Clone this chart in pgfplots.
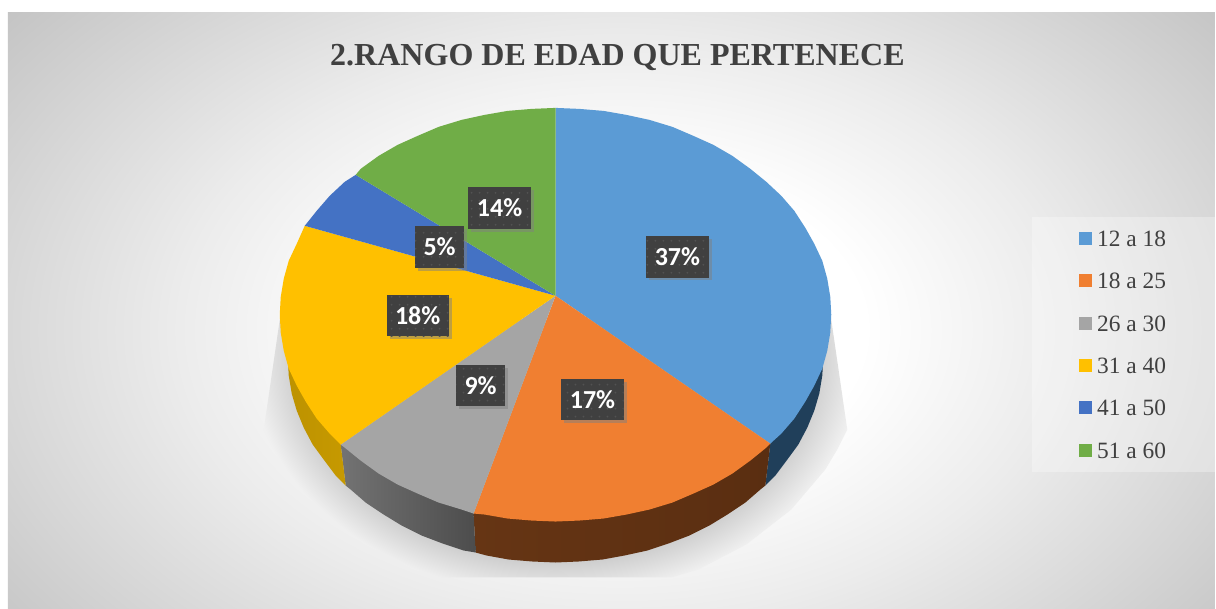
\documentclass[border=0pt]{standalone}
\usepackage{fontspec}
\setmainfont{Liberation Serif}
\newfontfamily\labelfont{Carlito}
\usepackage{pgfplots}
\pgfplotsset{compat=1.18}
\usetikzlibrary{shadows,patterns.meta}
\definecolor{cBlue}{HTML}{5B9BD5}
\definecolor{cOrange}{HTML}{F07F31}
\definecolor{cGray}{HTML}{A5A5A5}
\definecolor{cYellow}{HTML}{FFC000}
\definecolor{cBlueB}{HTML}{4472C4}
\definecolor{cGreen}{HTML}{70AD47}
\definecolor{txt}{HTML}{404040}
\definecolor{bgMid}{HTML}{ECECEC}
\definecolor{bgEdge}{HTML}{C4C4C4}
\definecolor{shadowIn}{HTML}{CBCBCB}
\definecolor{shadowOut}{HTML}{F0F0F0}
\pgfdeclareradialshading{chartbg}{\pgfpointorigin}{color(0bp)=(white); color(10bp)=(white); color(18bp)=(bgMid); color(32bp)=(bgEdge); color(50bp)=(bgEdge)}
\pgfdeclareradialshading{pieshadow}{\pgfpointorigin}{color(0bp)=(shadowIn); color(21bp)=(shadowIn); color(25bp)=(shadowOut); color(50bp)=(shadowOut)}
\begin{document}
\begin{tikzpicture}[x=1pt,y=1pt]
% page, background and soft shadow under the pie
\fill[white] (0,0) rectangle (1216,609);
\begin{scope}
\clip (8,0) rectangle (1216,596);
\shade[shading=chartbg] (8,-121) rectangle (1232,679);
\end{scope}
\begin{scope}
\clip (280,289) -- (264,179) -- (274,159) -- (286,139) -- (320,99) -- (365,64) -- (413,39) -- (440,31) -- (672,31) -- (699,39) -- (747,64) -- (792,99) -- (826,139) -- (838,159) -- (848,179) -- (832,289) -- cycle;
\shade[shading=pieshadow] (251,11) rectangle (861,491);
\end{scope}
\begin{axis}[
    at={(0,0)}, anchor=south west,
    scale only axis, width=1216pt, height=609pt,
    xmin=0, xmax=1216, ymin=0, ymax=609,
    y dir=reverse,
    hide axis,
    no marks,
    title={\textbf{2.RANGO DE EDAD QUE PERTENECE}},
    title style={at={(618/1216,1-54/609)}, anchor=center, yshift=-10pt, font=\fontsize{32.05}{32}\selectfont, text=txt},
    legend style={
        at={(1033/1216,1-217/609)}, anchor=north west,
        draw=none, fill=white, fill opacity=0.3, text opacity=1,
        inner xsep=46.5pt, inner ysep=13.5pt, row sep=26.4pt,
        font=\fontsize{23.4}{24}\selectfont, text=txt,
        cells={anchor=west},
        nodes={inner xsep=3.5pt, inner ysep=0pt, text height=16pt, text depth=0pt}
    },
    legend image code/.code={\fill[#1, fill opacity=1] (0pt,-6.5pt) rectangle (13pt,6.5pt); \path (15pt,0pt);},
]
% sides of the pie
\addplot[draw=none, forget plot, fill={rgb,255:red,32;green,63;blue,90}] coordinates {(771,444) (766,486) (776,476) (788,460) (799,445) (808,428) (815,411) (820,394) (823,376) (824,358) (760,340)};
\addplot[draw=none, forget plot, left color={rgb,255:red,102;green,53;blue,20}, right color={rgb,255:red,90;green,46;blue,17}] coordinates {(771,444) (766,486) (761,490) (746,503) (728,515) (710,526) (690,536) (669,544) (648,551) (625,556) (603,560) (579,562) (556,563) (533,562) (509,560) (487,556) (476,553) (474,514) (556,480)};
\addplot[draw=none, forget plot, left color=black!55, right color=black!70] coordinates {(474,514) (476,553) (464,551) (443,544) (422,536) (402,526) (384,515) (366,503) (351,490) (346,486) (341,445) (450,450)};
\addplot[draw=none, forget plot, left color={rgb,255:red,189;green,146;blue,0}, right color={rgb,255:red,199;green,154;blue,0}] coordinates {(341,445) (346,486) (336,476) (324,460) (313,445) (304,428) (297,411) (292,394) (289,376) (288,358) (350,340)};
% top of the pie
\addplot[draw=none, fill=cBlue] coordinates {(556,296) (556,108) (580,109) (604,111) (627,115) (650,120) (673,127) (694,136) (714,145) (733,156) (751,169) (767,182) (782,196) (795,211) (806,228) (815,244) (823,261) (828,279) (831,297) (832,315) (831,333) (828,351) (823,369) (815,386) (806,402) (795,419) (782,434) (771,444)};
\addlegendentry{12 a 18}
\addplot[draw=none, fill=cOrange] coordinates {(556,296) (771,444) (767,448) (751,461) (733,474) (714,485) (694,494) (673,503) (650,510) (627,515) (604,519) (580,521) (556,522) (532,521) (508,519) (485,515) (474,514)};
\addlegendentry{18 a 25}
\addplot[draw=none, fill=cGray] coordinates {(556,296) (474,514) (462,510) (439,503) (418,494) (398,485) (379,474) (361,461) (345,448) (341,445)};
\addlegendentry{26 a 30}
\addplot[draw=none, fill=cYellow] coordinates {(556,296) (341,445) (330,434) (317,419) (306,402) (297,386) (289,369) (284,351) (281,333) (280,315) (281,297) (284,279) (289,261) (297,244) (305,226)};
\addlegendentry{31 a 40}
\addplot[draw=none, fill=cBlueB] coordinates {(556,296) (305,226) (317,211) (330,196) (345,182) (356,175)};
\addlegendentry{41 a 50}
\addplot[draw=none, fill=cGreen] coordinates {(556,296) (356,175) (361,169) (379,156) (398,145) (418,136) (439,127) (462,120) (485,115) (508,111) (532,109) (556,108)};
\addlegendentry{51 a 60}
% data labels
\addplot[draw=none, forget plot,
    point meta=explicit,
    /pgf/number format/assume math mode=true,
    nodes near coords={\pgfmathprintnumber{\pgfplotspointmeta}\%},
    nodes near coords align=center,
    every node near coord/.append style={
        anchor=center, font=\labelfont\bfseries\fontsize{26}{26}\selectfont, text=white,
        inner xsep=8.5pt, inner ysep=0pt, minimum height=41.5pt,
        fill=txt, postaction={pattern={Dots[distance=8pt, radius=1pt]}, pattern color=black!68},
        drop shadow={shadow xshift=3pt, shadow yshift=-3pt, opacity=0.5}
    }
] table[x=x, y=y, meta=v] {
x y v
678 257 37
593 400 17
481 386 9
418 316 18
440 247 5
500 208 14
};
\end{axis}
\end{tikzpicture}
\end{document}
